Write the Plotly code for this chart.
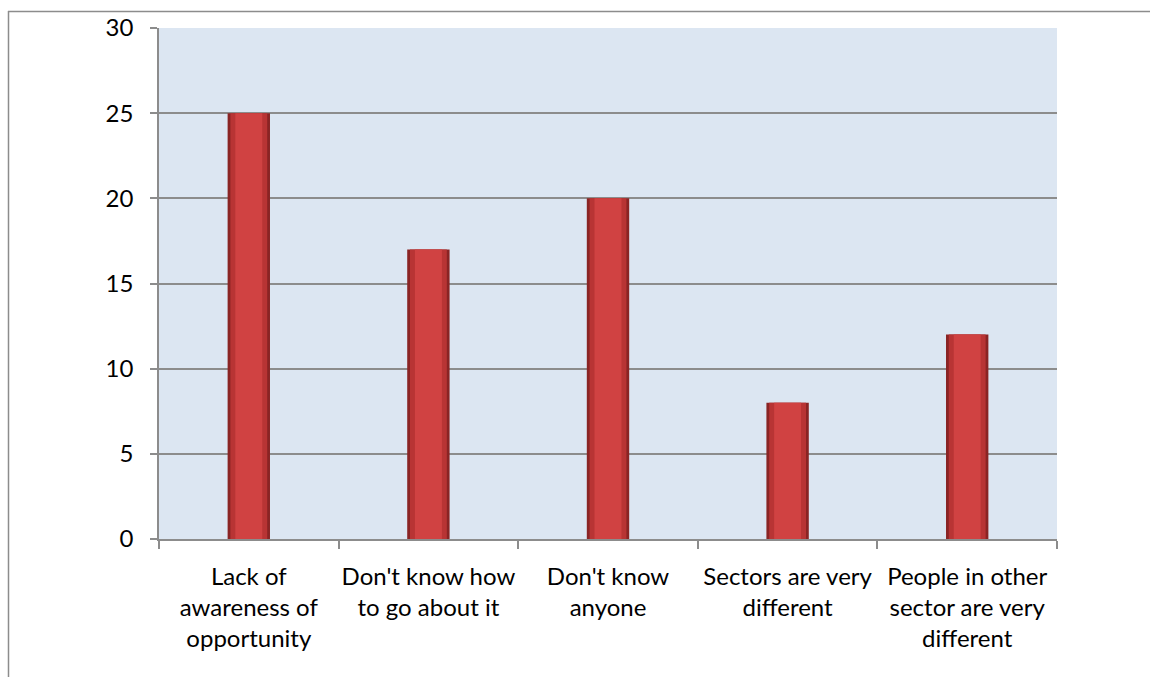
import plotly.graph_objects as go

categories = [
    "Lack of<br>awareness of<br>opportunity",
    "Don't know how<br>to go about it",
    "Don't know<br>anyone",
    "Sectors are very<br>different",
    "People in other<br>sector are very<br>different",
]
values = [25, 17, 20, 8, 12]
y_ticks = [0, 5, 10, 15, 20, 25, 30]

W, H = 1150, 677
L, R, T, B = 159, 1057, 28, 539
pw, ph = R - L, B - T

def px(x):
    return (x - L) / pw

def py(y):
    return (B - y) / ph

fig = go.Figure()
# layered bars to mimic the bevelled look
fig.add_trace(go.Bar(x=categories, y=values, width=0.236,
                     marker=dict(color="#8a2424", line=dict(width=0)),
                     hoverinfo="skip", showlegend=False))
fig.add_trace(go.Bar(x=categories, y=values, width=0.205,
                     marker=dict(color="#b83434", line=dict(width=0)),
                     hoverinfo="skip", showlegend=False))
fig.add_trace(go.Bar(x=categories, y=values, width=0.15,
                     marker=dict(color="#d04242", line=dict(width=0)),
                     showlegend=False))

fig.update_layout(
    width=W, height=H,
    margin=dict(l=L, r=W - R, t=T, b=H - B),
    paper_bgcolor="white",
    plot_bgcolor="#dce6f2",
    barmode="overlay",
    font=dict(family="Lato, Carlito, Calibri, sans-serif", size=24, color="#000000"),
    showlegend=False,
)
fig.update_xaxes(
    type="category",
    showline=True, linecolor="#8c8c8c", linewidth=1.5,
    ticks="outside", tickson="boundaries", ticklen=8, tickcolor="#8c8c8c", tickwidth=1.5,
    showgrid=False, tickangle=0, ticklabelstandoff=15,
)
fig.update_yaxes(
    range=[0, 30], tickvals=y_ticks,
    showline=True, linecolor="#8c8c8c", linewidth=1.5,
    ticks="outside", ticklen=7, tickcolor="#8c8c8c", tickwidth=1.5,
    showgrid=True, gridcolor="#8c8c8c", gridwidth=1.5,
    zeroline=False, ticklabelstandoff=12,
)
# outer chart border (top and left visible)
fig.add_shape(type="line", xref="paper", yref="paper",
              x0=px(8), x1=px(1160), y0=py(11.5), y1=py(11.5),
              line=dict(color="#8c8c8c", width=1.5), layer="above")
fig.add_shape(type="line", xref="paper", yref="paper",
              x0=px(8.5), x1=px(8.5), y0=py(11), y1=py(690),
              line=dict(color="#8c8c8c", width=1.5), layer="above")

fig.write_html("out.html")
